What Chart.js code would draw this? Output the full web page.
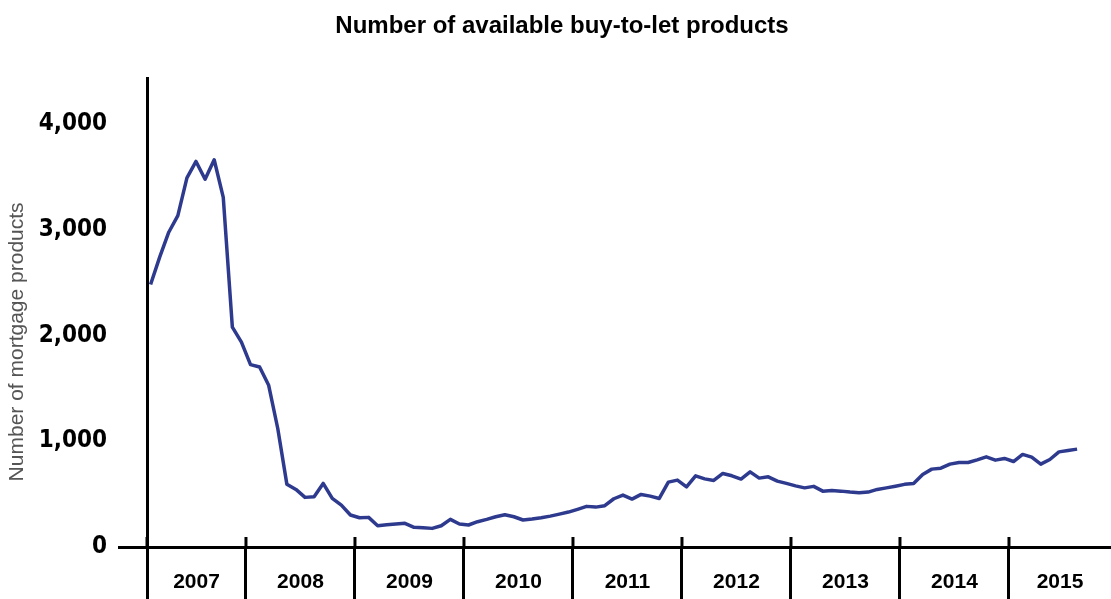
<!DOCTYPE html>
<html>
<head>
<meta charset="utf-8">
<title>Number of available buy-to-let products</title>
<script src="https://cdn.jsdelivr.net/npm/chart.js@4.4.0/dist/chart.umd.min.js"></script>
<style>
  html, body { margin: 0; padding: 0; background: #fff; }
  #wrap { width: 1111px; height: 599px; position: relative; }
</style>
</head>
<body>
<div id="wrap"><canvas id="btlChart"></canvas></div>
<script>
// monthly number of buy-to-let mortgage products, Feb 2007 to Aug 2015
const startYear = 2007;
const startMonth = 2;
const products = [
  2481, 2740, 2975, 3132, 3488, 3644, 3476, 3660, 3305, 2078, 1937,
  1724, 1701, 1528, 1120, 594, 544, 469, 475, 601, 459, 396, 302,
  276, 280, 201, 210, 217, 224, 186, 181, 176, 201, 261, 217, 208,
  239, 261, 286, 305, 286, 255, 264, 276, 292, 311, 330, 356,
  384, 377, 390, 456, 491, 453, 497, 481, 459, 613, 632, 569,
  673, 644, 629, 695, 673, 642, 710, 651, 663, 623, 601, 578,
  559, 573, 528, 535, 528, 519, 512, 519, 544, 559, 575, 592,
  601, 686, 736, 745, 783, 799, 799, 824, 852, 821, 837, 808,
  875, 849, 783, 827, 899, 912, 925
];
const yearLabels = ["2007", "2008", "2009", "2010", "2011", "2012", "2013", "2014", "2015"];
const yTicks = [0, 1000, 2000, 3000, 4000];
const chartTitle = "Number of available buy-to-let products";
const yTitle = "Number of mortgage products";

const points = products.map((v, i) => ({
  x: startYear + (startMonth - 1 + i + 0.5) / 12,
  y: v
}));

// year separators plus a centred label tick for every year
function yearTicks(scale) {
  const ticks = [];
  yearLabels.forEach(lbl => {
    const y0 = Math.max(+lbl, scale.min);
    const y1 = Math.min(+lbl + 1, scale.max);
    ticks.push({ value: y0, year: "", sep: true });
    ticks.push({ value: (y0 + y1) / 2, year: lbl, sep: false });
  });
  scale.ticks = ticks;
}

const extras = {
  id: "extras",
  afterDraw(chart) {
    const { ctx, chartArea, scales } = chart;
    const x = scales.x;
    ctx.save();
    ctx.strokeStyle = "#000";
    ctx.lineWidth = 3;
    x.ticks.filter(t => t.sep).forEach(t => {
      const px = x.getPixelForValue(t.value);
      ctx.beginPath();
      ctx.moveTo(px, chartArea.bottom - 10);
      ctx.lineTo(px, chartArea.bottom);
      ctx.stroke();
    });
    // y axis title, sits a little below the middle of the axis
    ctx.translate(scales.y.left + 4, (chartArea.top + chartArea.bottom) / 2 + 29);
    ctx.rotate(-Math.PI / 2);
    ctx.font = '21px "Liberation Sans", Arial, sans-serif';
    ctx.fillStyle = "#555";
    ctx.textAlign = "center";
    ctx.textBaseline = "middle";
    ctx.fillText(yTitle, 0, 0);
    ctx.restore();
  }
};

new Chart(document.getElementById("btlChart"), {
  type: "line",
  data: {
    datasets: [{
      label: "Products",
      data: points,
      borderColor: "#2d3a8e",
      borderWidth: 3.5,
      borderJoinStyle: "round",
      pointRadius: 0,
      tension: 0,
      fill: false
    }]
  },
  options: {
    responsive: true,
    maintainAspectRatio: false,
    animation: false,
    layout: { padding: { left: 13, right: 0, top: 0, bottom: 0 } },
    plugins: {
      legend: { display: false },
      tooltip: { enabled: false },
      title: {
        display: true,
        text: chartTitle,
        color: "#000",
        font: { family: '"Liberation Sans", Arial, sans-serif', size: 24, weight: "bold" },
        padding: { top: 12, bottom: 38 }
      }
    },
    scales: {
      x: {
        type: "linear",
        min: 2007.092,
        max: 2015.936,
        afterBuildTicks: yearTicks,
        afterFit: s => { s.height = 52; },
        border: { display: true, color: "#000", width: 3 },
        grid: {
          drawOnChartArea: false,
          tickLength: 52,
          lineWidth: 3,
          color: c => (c.tick && c.tick.sep ? "#000" : "rgba(0,0,0,0)")
        },
        ticks: {
          autoSkip: false,
          maxRotation: 0,
          padding: -29,
          color: "#000",
          font: { family: '"Liberation Sans", Arial, sans-serif', size: 21, weight: "bold" },
          callback: (v, i, ticks) => ticks[i].year
        }
      },
      y: {
        min: 0,
        max: 4425,
        afterBuildTicks: s => { s.ticks = yTicks.map(v => ({ value: v })); },
        afterFit: s => { s.width = 134; },
        border: { display: true, color: "#000", width: 3 },
        grid: {
          drawOnChartArea: false,
          tickLength: 29,
          lineWidth: 3,
          color: c => (c.tick && c.tick.value === 0 ? "#000" : "rgba(0,0,0,0)")
        },
        ticks: {
          padding: 11,
          color: "#000",
          font: { family: '"DejaVu Sans Condensed", "Liberation Sans Narrow", sans-serif', size: 24, weight: "bold" },
          callback: v => v.toLocaleString("en-US")
        }
      }
    }
  },
  plugins: [extras]
});
</script>
</body>
</html>
